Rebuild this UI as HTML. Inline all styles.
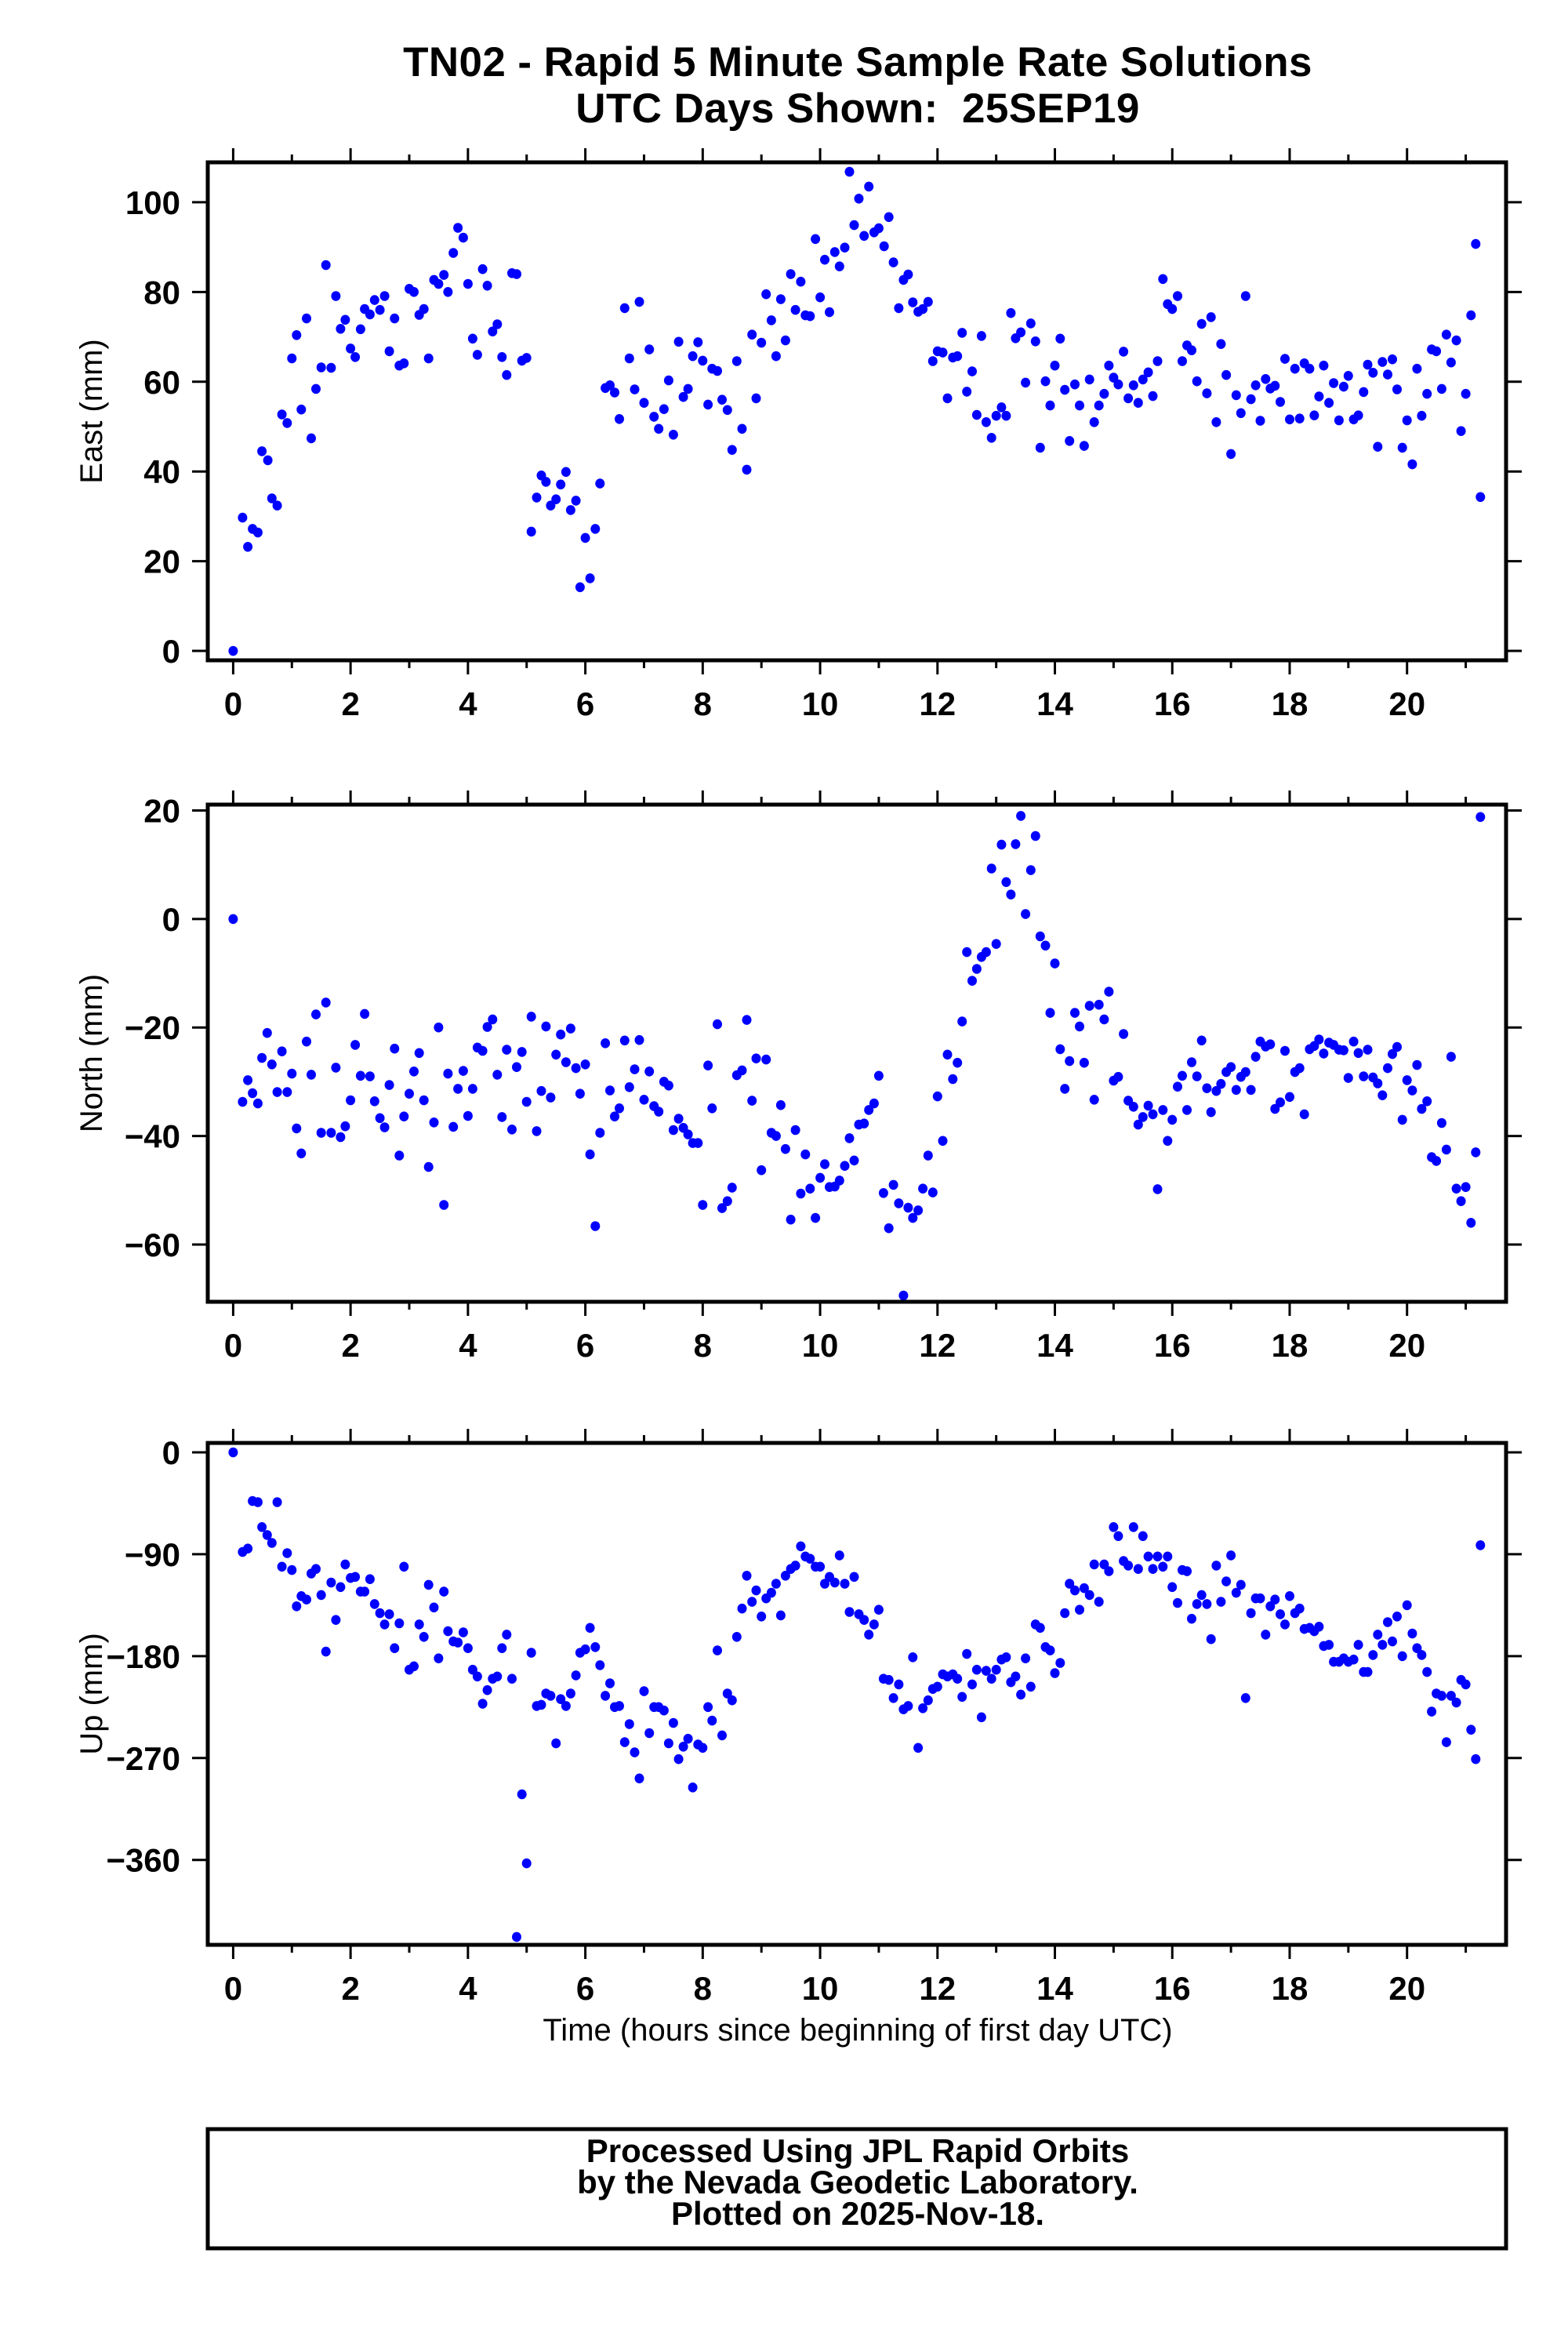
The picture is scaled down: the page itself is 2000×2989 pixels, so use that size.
<!DOCTYPE html>
<html><head><meta charset="utf-8"><style>
html,body{margin:0;padding:0;background:#fff;}
svg{display:block;font-family:"Liberation Sans",Arial,sans-serif;}
</style></head><body>
<svg id="chart" width="2000" height="2989" viewBox="0 0 2000 2989" xmlns="http://www.w3.org/2000/svg">
<rect x="0" y="0" width="2000" height="2989" fill="#fff"/>
<text x="1094" y="97" text-anchor="middle" font-size="53" font-weight="bold" letter-spacing="0.4">TN02 - Rapid 5 Minute Sample Rate Solutions</text>
<text x="1094" y="156" text-anchor="middle" font-size="53" font-weight="bold" letter-spacing="0.4">UTC Days Shown: &#160;25SEP19</text>
<text x="1094" y="2602" text-anchor="middle" font-size="40">Time (hours since beginning of first day UTC)</text>
<rect x="265" y="2715" width="1656" height="152" fill="none" stroke="#000" stroke-width="5"/>
<text x="1094" y="2757" text-anchor="middle" font-size="42" font-weight="bold">Processed Using JPL Rapid Orbits</text>
<text x="1094" y="2797" text-anchor="middle" font-size="42" font-weight="bold">by the Nevada Geodetic Laboratory.</text>
<text x="1094" y="2837" text-anchor="middle" font-size="42" font-weight="bold">Plotted on 2025-Nov-18.</text>
<g id="panels"></g>
</svg>
<script>
const xTickLabels = ["0","2","4","6","8","10","12","14","16","18","20"];
const eastTicks = [0,20,40,60,80,100];
const northTicks = [20,0,-20,-40,-60];
const upTicks = [0,-90,-180,-270,-360];

const eastHours = [0,.16,.25,.33,.42,.49,.59,.66,.75,.83,.92,1.0,1.08,1.16,1.25,1.33,1.41,1.5,1.58,1.67,1.75,1.83,1.91,2.0,2.08,2.17,2.24,2.33,2.41,2.5,2.58,2.66,2.75,2.83,2.91,3.0,3.08,3.17,3.25,3.33,3.42,3.5,3.59,3.66,3.75,3.83,3.92,4.0,4.08,4.16,4.25,4.33,4.42,4.5,4.58,4.66,4.75,4.83,4.92,5.0,5.08,5.17,5.25,5.33,5.41,5.5,5.58,5.67,5.75,5.84,5.91,6.0,6.08,6.17,6.25,6.34,6.42,6.5,6.58,6.67,6.75,6.84,6.92,7.0,7.09,7.17,7.25,7.34,7.42,7.5,7.59,7.67,7.75,7.83,7.92,8.0,8.09,8.16,8.25,8.33,8.42,8.5,8.58,8.67,8.75,8.84,8.91,9.0,9.08,9.17,9.25,9.33,9.41,9.5,9.58,9.67,9.75,9.83,9.92,10.0,10.08,10.16,10.25,10.33,10.42,10.5,10.58,10.66,10.75,10.83,10.92,11.0,11.09,11.17,11.25,11.34,11.42,11.5,11.58,11.67,11.75,11.84,11.92,12.0,12.09,12.17,12.26,12.34,12.42,12.5,12.59,12.67,12.75,12.83,12.92,13.0,13.09,13.17,13.25,13.33,13.42,13.5,13.59,13.67,13.75,13.84,13.92,14.0,14.09,14.17,14.25,14.34,14.42,14.5,14.59,14.67,14.75,14.84,14.92,15.0,15.08,15.17,15.25,15.34,15.42,15.5,15.59,15.67,15.75,15.84,15.92,16.0,16.09,16.17,16.25,16.33,16.42,16.5,16.59,16.66,16.75,16.83,16.92,17.0,17.09,17.17,17.25,17.34,17.42,17.5,17.59,17.67,17.75,17.84,17.92,18.0,18.09,18.17,18.25,18.34,18.42,18.5,18.58,18.67,18.75,18.84,18.92,19.0,19.09,19.17,19.26,19.33,19.42,19.5,19.58,19.67,19.75,19.83,19.92,20.0,20.09,20.17,20.25,20.34,20.42,20.5,20.59,20.67,20.75,20.84,20.92,21.0,21.09,21.17,21.25];
const eastValues = [0,29.7,23.2,27.2,26.4,44.5,42.5,34,32.4,52.7,50.8,65.2,70.4,53.8,74.1,47.4,58.4,63.2,86,63.1,79.1,71.8,73.8,67.4,65.5,71.7,76.2,75,78.2,76,79.1,66.8,74.1,63.6,64.1,80.7,80,74.9,76.2,65.2,82.7,81.8,83.8,80,88.7,94.3,92.1,81.8,69.6,66,85.1,81.4,71.2,72.8,65.5,61.5,84.2,84,64.7,65.3,26.6,34.2,39.1,37.7,32.4,33.8,37.1,39.9,31.4,33.5,14.2,25.2,16.2,27.2,37.3,58.6,59.2,57.6,51.7,76.4,65.2,58.3,77.8,55.3,67.2,52.2,49.5,53.9,60.3,48.2,68.9,56.6,58.4,65.7,68.8,64.7,54.9,62.9,62.4,56,53.7,44.8,64.6,49.5,40.4,70.5,56.3,68.7,79.5,73.7,65.7,78.4,69.2,84,76,82.3,74.8,74.6,91.8,78.8,87.2,75.5,88.9,85.7,89.9,106.8,94.9,100.8,92.5,103.5,93.3,94.2,90.2,96.7,86.6,76.4,82.7,83.9,77.7,75.6,76.2,77.8,64.6,66.8,66.5,56.3,65.4,65.7,70.9,57.8,62.3,52.6,70.2,51,47.5,52.4,54.3,52.4,75.3,69.7,71,59.8,73,69,45.3,60.1,54.7,63.6,69.6,58.2,46.8,59.4,54.7,45.7,60.5,51,54.7,57.3,63.6,60.9,59.4,66.7,56.3,59.2,55.3,60.5,62.1,56.8,64.6,82.9,77.3,76.2,79.1,64.6,68.1,67,60.1,72.9,57.4,74.4,51,68.4,61.5,43.9,57,53,79.1,56.1,59.2,51.3,60.6,58.5,59.1,55.5,65.1,51.6,62.9,51.8,64.1,62.9,52.5,56.7,63.6,55.3,59.7,51.4,58.9,61.3,51.6,52.5,57.7,63.8,62,45.5,64.4,61.6,65,58.3,45.3,51.4,41.6,62.9,52.4,57.3,67.2,66.8,58.4,70.5,64.3,69.2,49,57.3,74.8,90.7,34.3];

const northHours = [0,.16,.25,.33,.42,.49,.58,.66,.75,.83,.92,1.0,1.08,1.16,1.25,1.33,1.41,1.5,1.58,1.67,1.75,1.83,1.91,2.0,2.08,2.17,2.24,2.33,2.41,2.5,2.58,2.66,2.75,2.83,2.91,3.0,3.08,3.17,3.25,3.33,3.42,3.5,3.59,3.66,3.75,3.83,3.92,4.0,4.08,4.16,4.25,4.33,4.42,4.5,4.58,4.66,4.75,4.83,4.92,5.0,5.08,5.17,5.25,5.33,5.41,5.5,5.58,5.67,5.75,5.84,5.91,6.0,6.08,6.17,6.25,6.34,6.42,6.5,6.58,6.67,6.75,6.84,6.92,7.0,7.09,7.17,7.25,7.34,7.42,7.5,7.59,7.67,7.75,7.83,7.92,8.0,8.09,8.16,8.25,8.33,8.42,8.5,8.58,8.67,8.75,8.84,8.91,9.0,9.08,9.17,9.25,9.33,9.41,9.5,9.58,9.67,9.75,9.83,9.92,10.0,10.08,10.16,10.25,10.33,10.42,10.5,10.58,10.66,10.75,10.83,10.92,11.0,11.08,11.17,11.25,11.34,11.42,11.5,11.58,11.67,11.75,11.84,11.92,12.0,12.09,12.17,12.26,12.34,12.42,12.5,12.59,12.67,12.75,12.83,12.92,13.0,13.09,13.17,13.25,13.33,13.42,13.5,13.59,13.67,13.75,13.84,13.92,14.0,14.09,14.17,14.25,14.34,14.42,14.5,14.59,14.67,14.75,14.84,14.92,15.0,15.08,15.17,15.25,15.34,15.42,15.5,15.59,15.67,15.75,15.84,15.92,16.0,16.09,16.17,16.25,16.33,16.42,16.5,16.59,16.66,16.75,16.83,16.92,17.0,17.09,17.17,17.25,17.34,17.42,17.5,17.59,17.67,17.75,17.84,17.92,18.0,18.09,18.17,18.25,18.34,18.42,18.5,18.58,18.67,18.75,18.84,18.92,19.0,19.09,19.17,19.26,19.33,19.42,19.5,19.58,19.67,19.75,19.83,19.92,20.0,20.09,20.17,20.25,20.34,20.42,20.5,20.59,20.67,20.75,20.84,20.92,21.0,21.09,21.17,21.25];
const northValues = [0,-33.7,-29.7,-32.1,-34,-25.6,-21,-26.8,-31.9,-24.4,-31.9,-28.5,-38.6,-43.2,-22.6,-28.7,-17.6,-39.4,-15.4,-39.4,-27.4,-40.2,-38.2,-33.4,-23.2,-28.9,-17.5,-29,-33.6,-36.7,-38.4,-30.6,-23.9,-43.6,-36.4,-32.2,-28.1,-24.7,-33.4,-45.7,-37.5,-20,-52.7,-28.5,-38.3,-31.3,-28,-36.3,-31.3,-23.7,-24.3,-19.9,-18.5,-28.7,-36.5,-24.1,-38.8,-27.3,-24.5,-33.7,-18,-39.1,-31.7,-19.8,-32.9,-25,-21.3,-26.4,-20.2,-27.5,-32.2,-26.8,-43.4,-56.6,-39.4,-22.9,-31.6,-36.4,-34.9,-22.4,-31,-27.7,-22.3,-33.3,-28.1,-34.5,-35.5,-30,-30.7,-38.9,-36.8,-38.5,-39.7,-41.3,-41.3,-52.7,-27,-34.9,-19.4,-53.3,-52,-49.5,-28.8,-27.9,-18.6,-33.5,-25.7,-46.3,-25.9,-39.4,-40,-34.3,-42.4,-55.4,-38.9,-50.6,-43.4,-49.7,-55.1,-47.7,-45.2,-49.4,-49.3,-48.2,-45.5,-40.4,-44.5,-37.9,-37.7,-35.2,-34,-28.9,-50.5,-57,-49,-52.4,-69.4,-53.2,-55.1,-53.7,-49.7,-43.6,-50.4,-32.7,-40.9,-25,-29.5,-26.5,-18.9,-6.1,-11.4,-9.2,-7,-6.1,9.3,-4.6,13.7,6.8,4.5,13.8,19,0.9,9,15.3,-3.2,-4.9,-17.3,-8.2,-24,-31.3,-26.2,-17.3,-19.8,-26.5,-16,-33.3,-15.8,-18.5,-13.4,-29.8,-29.1,-21.2,-33.5,-34.6,-37.9,-36.5,-34.4,-36,-49.8,-35.2,-40.9,-37,-30.9,-28.9,-35.2,-26.4,-29,-22.4,-31.2,-35.6,-31.7,-30.4,-28.2,-27.3,-31.5,-29.1,-28.2,-31.5,-25.4,-22.6,-23.5,-23.1,-35,-33.8,-24.3,-32.8,-28.2,-27.5,-36,-24,-23.4,-22.2,-24.8,-22.8,-23.2,-24.1,-24.2,-29.3,-22.6,-24.7,-29,-24.1,-29.2,-30.3,-32.5,-27.5,-24.9,-23.6,-37,-29.7,-31.6,-26.9,-35,-33.6,-43.9,-44.6,-37.6,-42.5,-25.4,-49.7,-52,-49.4,-56,-43,18.8];

const upHours = [0,.16,.25,.33,.42,.49,.58,.66,.75,.83,.92,1.0,1.08,1.16,1.25,1.33,1.41,1.5,1.58,1.67,1.75,1.83,1.91,2.0,2.08,2.17,2.24,2.33,2.41,2.5,2.58,2.66,2.75,2.83,2.91,3.0,3.08,3.17,3.25,3.33,3.42,3.5,3.59,3.66,3.75,3.83,3.92,4.0,4.08,4.16,4.25,4.33,4.42,4.5,4.58,4.66,4.75,4.83,4.92,5.0,5.08,5.17,5.25,5.33,5.41,5.5,5.58,5.67,5.75,5.84,5.91,6.0,6.08,6.17,6.25,6.34,6.42,6.5,6.58,6.67,6.75,6.84,6.92,7.0,7.09,7.17,7.25,7.34,7.42,7.5,7.59,7.67,7.75,7.83,7.92,8.0,8.09,8.16,8.25,8.33,8.42,8.5,8.58,8.67,8.75,8.84,8.91,9.0,9.08,9.17,9.25,9.33,9.41,9.5,9.58,9.67,9.75,9.83,9.92,10.0,10.08,10.16,10.25,10.33,10.42,10.5,10.58,10.66,10.75,10.83,10.92,11.0,11.08,11.17,11.25,11.34,11.42,11.5,11.58,11.67,11.75,11.84,11.92,12.0,12.09,12.17,12.26,12.34,12.42,12.5,12.59,12.67,12.75,12.83,12.92,13.0,13.09,13.17,13.25,13.33,13.42,13.5,13.59,13.67,13.75,13.84,13.92,14.0,14.09,14.17,14.25,14.34,14.42,14.5,14.59,14.67,14.75,14.84,14.92,15.0,15.08,15.17,15.25,15.34,15.42,15.5,15.59,15.67,15.75,15.84,15.92,16.0,16.09,16.17,16.25,16.33,16.42,16.5,16.59,16.66,16.75,16.83,16.92,17.0,17.09,17.17,17.25,17.34,17.42,17.5,17.59,17.67,17.75,17.84,17.92,18.0,18.09,18.17,18.25,18.34,18.42,18.5,18.58,18.67,18.75,18.84,18.92,19.0,19.09,19.17,19.26,19.33,19.42,19.5,19.58,19.67,19.75,19.83,19.92,20.0,20.09,20.17,20.25,20.34,20.42,20.5,20.59,20.67,20.75,20.84,20.92,21.0,21.09,21.17,21.25];
const upValues = [0,-88,-85,-43,-44,-66,-73,-80,-44,-101,-89,-104,-136,-127,-130,-107,-103,-126,-176,-115,-148,-119,-99,-111,-110,-123,-123,-112,-134,-142,-152,-143,-173,-151,-101,-192,-189,-152,-163,-117,-137,-182,-123,-158,-167,-168,-159,-173,-192,-198,-222,-210,-200,-198,-173,-161,-200,-428,-302,-363,-177,-224,-223,-213,-215,-257,-218,-224,-213,-197,-177,-174,-155,-172,-188,-215,-204,-225,-224,-256,-240,-265,-288,-211,-248,-225,-225,-228,-257,-239,-271,-260,-253,-296,-258,-261,-225,-237,-175,-250,-213,-219,-163,-138,-109,-132,-122,-145,-129,-124,-116,-144,-109,-103,-100,-83,-92,-94,-101,-101,-116,-110,-115,-91,-116,-141,-110,-143,-148,-161,-152,-139,-200,-201,-217,-205,-227,-224,-181,-261,-226,-219,-209,-207,-196,-198,-196,-200,-216,-178,-205,-192,-234,-193,-200,-192,-183,-181,-203,-198,-214,-182,-207,-152,-155,-172,-175,-195,-186,-142,-116,-122,-139,-120,-126,-99,-132,-99,-105,-66,-74,-96,-100,-66,-103,-74,-92,-103,-92,-101,-92,-119,-133,-104,-105,-147,-134,-126,-134,-165,-100,-132,-114,-91,-124,-117,-217,-142,-129,-129,-161,-136,-130,-143,-152,-127,-142,-138,-156,-155,-158,-154,-171,-170,-185,-185,-182,-185,-183,-170,-194,-194,-179,-161,-170,-150,-167,-145,-180,-135,-160,-173,-179,-194,-229,-213,-215,-256,-215,-221,-201,-205,-245,-271,-82];

const NS = "http://www.w3.org/2000/svg";
const X0 = 265, X1 = 1921, XMIN = -0.433, XMAX = 21.687;
function xScale(h){ return X0 + (h - XMIN) / (XMAX - XMIN) * (X1 - X0); }
function mk(tag, attrs, parent){
  const e = document.createElementNS(NS, tag);
  for (const k in attrs) e.setAttribute(k, attrs[k]);
  parent.appendChild(e);
  return e;
}
const root = document.getElementById('panels');

function drawPanel(name, top, bottom, ymin, ymax, yTicks, hours, values, yTitle){
  const g = mk('g', {}, root);
  
  
  const yScale = v => bottom - (v - ymin) / (ymax - ymin) * (bottom - top);
  const pts = mk('g', {fill: '#0000ff'}, g);
  
  
  for (let i = 0; i < values.length; i++){
    const c = mk('ellipse', {cx: xScale(hours[i]).toFixed(1), cy: yScale(values[i]).toFixed(1), rx: 6, ry: 6.3}, pts);
    
    
  }
  for (let h = 0; h <= 21; h++){
    const x = xScale(h);
    const len = (h % 2 === 0) ? 18 : 10;
    const t1 = mk('line', {x1: x, x2: x, y1: bottom, y2: bottom + len, stroke: '#000', 'stroke-width': 3}, g);
    
    
    const t2 = mk('line', {x1: x, x2: x, y1: top, y2: top - len, stroke: '#000', 'stroke-width': 3}, g);
    
    
  }
  xTickLabels.forEach(lab => {
    const t = mk('text', {x: xScale(+lab), y: bottom + 70, 'text-anchor': 'middle', 'font-size': 42, 'font-weight': 'bold'}, g);
    t.textContent = lab;
    
    
  });
  yTicks.forEach(v => {
    const y = yScale(v);
    const a = mk('line', {x1: X0 - 20, x2: X0, y1: y, y2: y, stroke: '#000', 'stroke-width': 3}, g);
    
    
    const b = mk('line', {x1: X1, x2: X1 + 20, y1: y, y2: y, stroke: '#000', 'stroke-width': 3}, g);
    
    
    const t = mk('text', {x: X0 - 35, y: y + 15, 'text-anchor': 'end', 'font-size': 42, 'font-weight': 'bold'}, g);
    t.textContent = v < 0 ? '\u2212' + Math.abs(v) : String(v);
    
    
  });
  const fr = mk('rect', {x: X0, y: top, width: X1 - X0, height: bottom - top, fill: 'none', stroke: '#000', 'stroke-width': 5}, g);
  
  
  const cy = (top + bottom) / 2;
  const yt = mk('text', {x: 0, y: 0, transform: 'translate(130,' + cy + ') rotate(-90)', 'text-anchor': 'middle', 'font-size': 40}, g);
  yt.textContent = yTitle;
  
  
}

drawPanel('east', 207, 842, -2.09, 108.9, eastTicks, eastHours, eastValues, 'East (mm)');
drawPanel('north', 1026, 1660, -70.55, 21.08, northTicks, northHours, northValues, 'North (mm)');
drawPanel('up', 1840, 2480, -435, 8.3, upTicks, upHours, upValues, 'Up (mm)');
</script>
</body></html>
